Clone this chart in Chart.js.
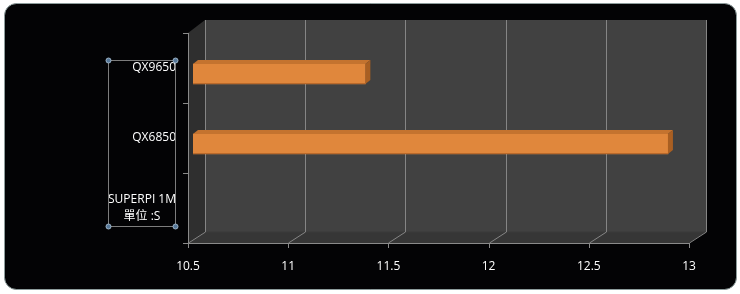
<!doctype html>
<html><head><meta charset="utf-8"><title>SUPERPI 1M</title>
<style>
html, body { margin: 0; padding: 0; background: #fff; }
canvas { display: block; }
</style>
</head>
<body>
<canvas id="c" width="740" height="294"></canvas>
<script src="https://cdn.jsdelivr.net/npm/chart.js"></script>
<script>
// data (seconds)
const cpus = ['QX9650', 'QX6850', ['SUPERPI 1M', '單位 :S     ']]
const seconds = [11.36, 12.87, null]
const xTicks = [10.5, 11, 11.5, 12, 12.5, 13]

const FONT = "'Open Sans', 'Noto Sans CJK TC', sans-serif"
const DX = 17, DY = -11 // depth of the 3d box
const BX = 5, BY = 6 // bars sit a bit inside the box
const BDX = 5, BDY = -4 // depth of a bar

function roundRect(ctx, x, y, w, h, r) {
  ctx.beginPath()
  ctx.moveTo(x + r, y)
  ctx.arcTo(x + w, y, x + w, y + h, r)
  ctx.arcTo(x + w, y + h, x, y + h, r)
  ctx.arcTo(x, y + h, x, y, r)
  ctx.arcTo(x, y, x + w, y, r)
  ctx.closePath()
}

function poly(ctx, pts, fill) {
  ctx.beginPath()
  ctx.moveTo(pts[0][0], pts[0][1])
  for (const p of pts.slice(1)) ctx.lineTo(p[0], p[1])
  ctx.closePath()
  ctx.fillStyle = fill
  ctx.fill()
}

function line(ctx, x1, y1, x2, y2, color) {
  ctx.beginPath()
  ctx.moveTo(x1, y1)
  ctx.lineTo(x2, y2)
  ctx.strokeStyle = color
  ctx.lineWidth = 1
  ctx.stroke()
}

const box3d = {
  id: 'box3d',
  beforeDraw(chart) {
    const { ctx, chartArea: a, scales } = chart
    const L = a.left, R = a.right, T = a.top, B = a.bottom
    ctx.save()
    // chart frame
    roundRect(ctx, 4.5, 3.5, 732, 286, 12)
    ctx.fillStyle = '#030305'
    ctx.fill()
    ctx.strokeStyle = '#8d9c9c'
    ctx.lineWidth = 1
    ctx.stroke()

    // walls
    poly(ctx, [[L, T], [L + DX, T + DY - 2], [L + DX, B + DY], [L, B]], '#2f2f2f')
    poly(ctx, [[L, B], [L + DX, B + DY], [R + DX, B + DY], [R, B]], '#363636')
    ctx.fillStyle = '#414141'
    ctx.fillRect(L + DX, T + DY - 2, R - L, B - T + 2)
    line(ctx, L + DX + 0.5, B + DY, R + DX, B + DY, '#3a3a3a')

    // grid lines on back wall and floor
    for (const v of xTicks) {
      const x = Math.round(scales.x.getPixelForValue(v)) + 0.5
      line(ctx, x + DX, T + DY - 2, x + DX, B + DY, '#858585')
      line(ctx, x, B, x + DX, B + DY, '#858585')
      line(ctx, x, B, x, B + 5, '#8a8a8a')
    }
    // axes
    line(ctx, L + 0.5, T, L + 0.5, B, '#8a8a8a')
    line(ctx, L, B + 0.5, R + 1, B + 0.5, '#8a8a8a')
    const y = scales.y
    for (let i = 0; i <= cpus.length; i++) {
      const yy = Math.round(y.getPixelForValue(i - 0.5)) + 0.5
      line(ctx, L - 5, yy, L, yy, '#8a8a8a')
    }
    ctx.restore()
  },
  beforeDatasetsDraw(chart) {
    chart.ctx.save()
    chart.ctx.translate(BX, BY)
  },
  afterDatasetsDraw(chart) {
    const ctx = chart.ctx
    const left = chart.chartArea.left
    chart.getDatasetMeta(0).data.forEach((bar, i) => {
      if (seconds[i] == null) return
      const base = Math.max(bar.base, left)
      const top = bar.y - bar.height / 2, bot = bar.y + bar.height / 2
      poly(ctx, [[base, top], [base + BDX, top + BDY], [bar.x + BDX, top + BDY], [bar.x, top]], '#c4732f')
      poly(ctx, [[bar.x, top], [bar.x + BDX, top + BDY], [bar.x + BDX, bot + BDY], [bar.x, bot]], '#a95f22')
      line(ctx, base, bot - 0.5, bar.x, bot - 0.5, '#b9692b')
    })
    ctx.restore()
  },
  afterDraw(chart) {
    // the selection box round the axis labels
    const ctx = chart.ctx
    ctx.save()
    ctx.strokeStyle = '#7d7d7d'
    ctx.lineWidth = 1
    ctx.strokeRect(108.5, 60.5, 67, 166)
    for (const [px, py] of [[108.5, 60.5], [175.5, 60.5], [108.5, 226.5], [175.5, 226.5]]) {
      ctx.beginPath()
      ctx.arc(px, py, 2.5, 0, Math.PI * 2)
      ctx.fillStyle = '#56789a'
      ctx.fill()
      ctx.strokeStyle = '#9db4c8'
      ctx.stroke()
    }
    ctx.restore()
  }
}

new Chart(document.getElementById('c').getContext('2d'), {
  type: 'bar',
  data: {
    labels: cpus,
    datasets: [{
      data: seconds,
      backgroundColor: '#e0873c',
      borderWidth: 0,
      barThickness: 20
    }]
  },
  options: {
    indexAxis: 'y',
    responsive: false,
    animation: false,
    layout: { padding: { left: 4, right: 51, top: 33, bottom: 0 } },
    plugins: { legend: { display: false }, tooltip: { enabled: false } },
    scales: {
      x: {
        min: 10.5,
        max: 13,
        afterBuildTicks: (s) => { s.ticks = xTicks.map((v) => ({ value: v })) },
        afterFit: (s) => { s.height = 51 },
        grid: { display: false, drawTicks: false },
        border: { display: false },
        ticks: {
          color: '#ffffff',
          padding: 16,
          maxRotation: 0,
          font: { family: FONT, size: 12 },
          callback: (v) => String(v)
        }
      },
      y: {
        afterFit: (s) => { s.width = 184 },
        grid: { display: false, drawTicks: false },
        border: { display: false },
        ticks: { color: '#ffffff', padding: 12, font: { family: FONT, size: 12, lineHeight: 1.4 } }
      }
    }
  },
  plugins: [box3d]
})
</script>
</body></html>
